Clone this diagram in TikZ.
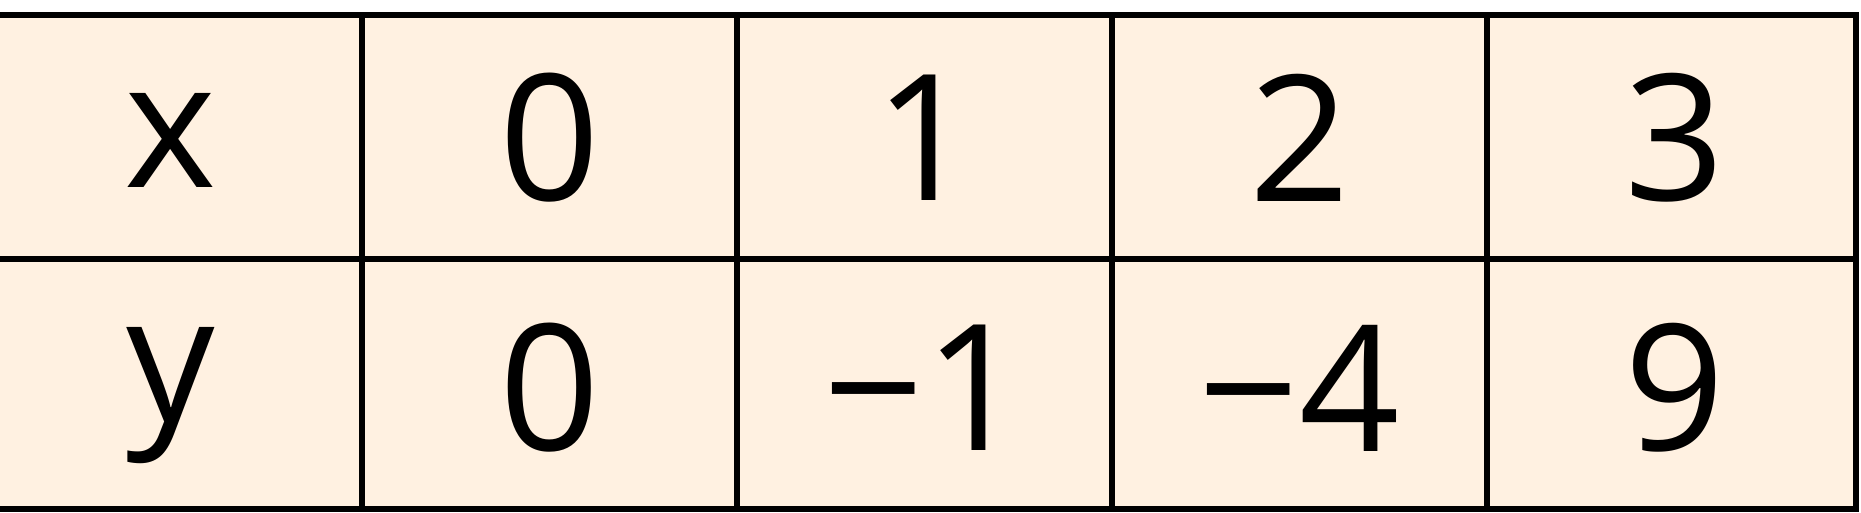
\documentclass[tikz,border=0pt]{standalone}
\usepackage{fontspec}
\setmainfont{Open Sans}
\usepackage{tikz}

\definecolor{cellbg}{RGB}{255,241,225}

\tikzset{
  gridline/.style={line width=1.8pt, black, line cap=rect},
  entry/.style={inner sep=0pt, font=\fontsize{50}{60}\selectfont}
}

\begin{document}
\begin{tikzpicture}[x=0.01cm, y=-0.01cm]
    \useasboundingbox (0,0) rectangle (1861,512);
    \fill[cellbg] (0,15) rectangle (1856,509);
    % rows and columns
    \foreach \r in {15,259,509}
      \draw[gridline] (0,\r) -- (1856,\r);
    \foreach \c in {362,737,1112,1487,1856}
      \draw[gridline] (\c,15) -- (\c,509);
    % entries
    \node[entry] (xlab) at (171,140) {x};
    \node[entry] (ylab) at (171,396) {y};
    \foreach \v [count=\i] in {0,1,2,3}
      \node[entry] (xval\i) at ({549.5+375*(\i-1)},138) {\v};
    \foreach \v [count=\i] in {0,−1,−4,9}
      \node[entry] (yval\i) at ({549.5+375*(\i-1)},388) {\v};
\end{tikzpicture}
\end{document}
